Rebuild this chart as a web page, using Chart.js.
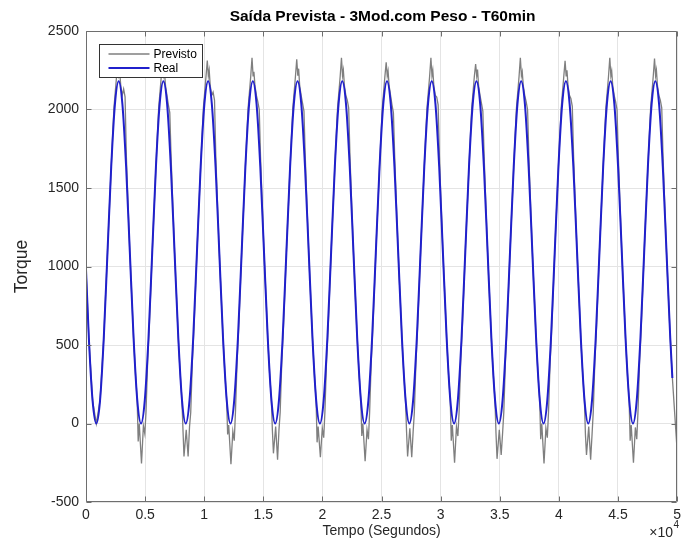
<!DOCTYPE html>
<html>
<head>
<meta charset="utf-8">
<script src="https://cdn.jsdelivr.net/npm/chart.js@4.4.0/dist/chart.umd.min.js"></script>
<style>
html, body { margin: 0; padding: 0; background: #ffffff; }
#wrap { position: relative; width: 686px; height: 540px; }
</style>
</head>
<body>
<div id="wrap"><canvas id="c"></canvas></div>
<script>
// Texts
const chartTitle = 'Saída Prevista - 3Mod.com Peso - T60min';
const xAxisTitle = 'Tempo (Segundos)';
const yAxisTitle = 'Torque';
const xExponent = '4';
const seriesNames = ['Previsto', 'Real'];

// Tick labels (x axis shown in units of 10^4 s)
const xTickLabels = ['0', '0.5', '1', '1.5', '2', '2.5', '3', '3.5', '4', '4.5', '5'];
const yTickLabels = ['-500', '0', '500', '1000', '1500', '2000', '2500'];

// Measured torque (Real): time in seconds
const tempoReal = [
  0, 241, 557,
  872, 1187, 1503, 1818, 2133, 2448, 2764, 3079, 3394, 3709, 4025, 4340,
  4655, 4970, 5286, 5601, 5916, 6231, 6547, 6862, 7177, 7492, 7808, 8123,
  8438, 8753, 9069, 9384, 9699, 10014, 10330, 10645, 10960, 11275, 11591, 11906,
  12221, 12536, 12852, 13167, 13482, 13797, 14113, 14428, 14743, 15058, 15374, 15689,
  16004, 16319, 16635, 16950, 17265, 17580, 17896, 18211, 18526, 18841, 19157, 19472,
  19787, 20102, 20418, 20733, 21048, 21363, 21679, 21994, 22309, 22624, 22940, 23255,
  23570, 23885, 24201, 24516, 24831, 25146, 25462, 25777, 26092, 26407, 26723, 27038,
  27353, 27668, 27984, 28299, 28614, 28929, 29245, 29560, 29875, 30190, 30506, 30821,
  31136, 31451, 31767, 32082, 32397, 32712, 33028, 33343, 33658, 33973, 34289, 34604,
  34919, 35234, 35550, 35865, 36180, 36495, 36811, 37126, 37441, 37756, 38072, 38387,
  38702, 39017, 39333, 39648, 39963, 40278, 40594, 40909, 41224, 41539, 41855, 42170,
  42485, 42800, 43116, 43431, 43746, 44061, 44377, 44692, 45007, 45322, 45638, 45953,
  46268, 46583, 46899, 47214, 47529, 47844, 48160, 48475, 48790, 49105, 49421, 49600
];
const torqueReal = [
  980, 545, 146,
  0, 146, 545, 1090, 1635, 2034, 2180, 2034, 1635, 1090, 545, 146,
  0, 146, 545, 1090, 1635, 2034, 2180, 2034, 1635, 1090, 545, 146,
  0, 146, 545, 1090, 1635, 2034, 2180, 2034, 1635, 1090, 545, 146,
  0, 146, 545, 1090, 1635, 2034, 2180, 2034, 1635, 1090, 545, 146,
  0, 146, 545, 1090, 1635, 2034, 2180, 2034, 1635, 1090, 545, 146,
  0, 146, 545, 1090, 1635, 2034, 2180, 2034, 1635, 1090, 545, 146,
  0, 146, 545, 1090, 1635, 2034, 2180, 2034, 1635, 1090, 545, 146,
  0, 146, 545, 1090, 1635, 2034, 2180, 2034, 1635, 1090, 545, 146,
  0, 146, 545, 1090, 1635, 2034, 2180, 2034, 1635, 1090, 545, 146,
  0, 146, 545, 1090, 1635, 2034, 2180, 2034, 1635, 1090, 545, 146,
  0, 146, 545, 1090, 1635, 2034, 2180, 2034, 1635, 1090, 545, 146,
  0, 146, 545, 1090, 1635, 2034, 2180, 2034, 1635, 1090, 545, 146,
  0, 146, 545, 1090, 1635, 2034, 2180, 2034, 1635, 1090, 545, 290
];

// Model output (Previsto): time in seconds
const tempoPrevisto = [
  0, 241, 557, 872, 1187, 1503, 1818,
  2133, 2364, 2464, 2584, 2694, 2784, 2854, 2944, 3064, 3184, 3304, 3414, 3564, 3709, 4025,
  4185, 4325, 4415, 4505, 4695, 4855, 4975, 5075, 5215, 5355, 5601,
  5916, 6147, 6247, 6367, 6477, 6567, 6637, 6727, 6847, 6967, 7087, 7197, 7347, 7492, 7808,
  7968, 8108, 8198, 8288, 8478, 8638, 8758, 8858, 8998, 9138, 9384,
  9699, 9930, 10030, 10150, 10260, 10350, 10420, 10510, 10630, 10750, 10870, 10980, 11130, 11275, 11591,
  11751, 11891, 11981, 12071, 12261, 12421, 12541, 12641, 12781, 12921, 13167,
  13482, 13713, 13813, 13933, 14043, 14133, 14203, 14293, 14413, 14533, 14653, 14763, 14913, 15058, 15374,
  15534, 15674, 15764, 15854, 16044, 16204, 16324, 16424, 16564, 16704, 16950,
  17265, 17496, 17596, 17716, 17826, 17916, 17986, 18076, 18196, 18316, 18436, 18546, 18696, 18841, 19157,
  19317, 19457, 19547, 19637, 19827, 19987, 20107, 20207, 20347, 20487, 20733,
  21048, 21279, 21379, 21499, 21609, 21699, 21769, 21859, 21979, 22099, 22219, 22329, 22479, 22624, 22940,
  23100, 23240, 23330, 23420, 23610, 23770, 23890, 23990, 24130, 24270, 24516,
  24831, 25062, 25162, 25282, 25392, 25482, 25552, 25642, 25762, 25882, 26002, 26112, 26262, 26407, 26723,
  26883, 27023, 27113, 27203, 27393, 27553, 27673, 27773, 27913, 28053, 28299,
  28614, 28845, 28945, 29065, 29175, 29265, 29335, 29425, 29545, 29665, 29785, 29895, 30045, 30190, 30506,
  30666, 30806, 30896, 30986, 31176, 31336, 31456, 31556, 31696, 31836, 32082,
  32397, 32628, 32728, 32848, 32958, 33048, 33118, 33208, 33328, 33448, 33568, 33678, 33828, 33973, 34289,
  34449, 34589, 34679, 34769, 34959, 35119, 35239, 35339, 35479, 35619, 35865,
  36180, 36411, 36511, 36631, 36741, 36831, 36901, 36991, 37111, 37231, 37351, 37461, 37611, 37756, 38072,
  38232, 38372, 38462, 38552, 38742, 38902, 39022, 39122, 39262, 39402, 39648,
  39963, 40194, 40294, 40414, 40524, 40614, 40684, 40774, 40894, 41014, 41134, 41244, 41394, 41539, 41855,
  42015, 42155, 42245, 42335, 42525, 42685, 42805, 42905, 43045, 43185, 43431,
  43746, 43977, 44077, 44197, 44307, 44397, 44467, 44557, 44677, 44797, 44917, 45027, 45177, 45322, 45638,
  45798, 45938, 46028, 46118, 46308, 46468, 46588, 46688, 46828, 46968, 47214,
  47529, 47760, 47860, 47980, 48090, 48180, 48250, 48340, 48460, 48580, 48700, 48810, 48960, 49105, 49421,
  49600, 50000
];
const torquePrevisto = [
  980, 545, 146, 0, 146, 545, 1090,
  1635, 2010, 2100, 2210, 2300, 2215, 2235, 2150, 2090, 2130, 2080, 1700, 1380, 1090, 545,
  316, 159, -115, 0, -255, -15, -65, 70, 400, 620, 1090,
  1635, 2010, 2100, 2210, 2290, 2215, 2240, 2150, 2090, 2030, 1980, 1700, 1380, 1090, 545,
  316, 159, -30, -210, -40, -210, -20, 70, 400, 620, 1090,
  1635, 2010, 2100, 2210, 2312, 2215, 2250, 2150, 2090, 2110, 2060, 1700, 1380, 1090, 545,
  316, 159, -70, -10, -260, -50, -110, 70, 400, 620, 1090,
  1635, 2010, 2100, 2210, 2330, 2215, 2240, 2150, 2090, 2050, 2000, 1700, 1380, 1090, 545,
  316, 159, -40, -190, -20, -230, -40, 70, 400, 620, 1090,
  1635, 2010, 2100, 2210, 2320, 2215, 2260, 2150, 2090, 2040, 1990, 1700, 1380, 1090, 545,
  316, 159, -120, -20, -215, -30, -90, 70, 400, 620, 1090,
  1635, 2010, 2100, 2210, 2330, 2215, 2250, 2150, 2090, 2060, 2010, 1700, 1380, 1090, 545,
  316, 159, -80, 0, -240, -40, -100, 70, 400, 620, 1090,
  1635, 2010, 2100, 2210, 2300, 2215, 2245, 2150, 2090, 2030, 1980, 1700, 1380, 1090, 545,
  316, 159, -50, -210, -30, -215, -50, 70, 400, 620, 1090,
  1635, 2010, 2100, 2210, 2330, 2215, 2250, 2150, 2090, 2080, 2030, 1700, 1380, 1090, 545,
  316, 159, -110, -10, -250, -20, -80, 70, 400, 620, 1090,
  1635, 2010, 2100, 2210, 2290, 2215, 2255, 2150, 2090, 2040, 1990, 1700, 1380, 1090, 545,
  316, 159, -60, -225, -40, -200, -60, 70, 400, 620, 1090,
  1635, 2010, 2100, 2210, 2330, 2215, 2240, 2150, 2090, 2050, 2000, 1700, 1380, 1090, 545,
  316, 159, -100, 0, -255, -30, -90, 70, 400, 620, 1090,
  1635, 2010, 2100, 2210, 2310, 2215, 2250, 2150, 2090, 2070, 2020, 1700, 1380, 1090, 545,
  316, 159, -70, -200, -20, -230, -70, 70, 400, 620, 1090,
  1635, 2010, 2100, 2210, 2330, 2215, 2245, 2150, 2090, 2050, 2000, 1700, 1380, 1090, 545,
  316, 159, -110, -10, -250, -25, -100, 70, 400, 620, 1090,
  1635, 2010, 2100, 2210, 2325, 2215, 2250, 2150, 2090, 2060, 2010, 1700, 1380, 1090, 545,
  290, -170
];

const FONT = '"Liberation Sans", Arial, Helvetica, sans-serif';
const INK = '#262626';

const toPoints = (xs, ys) => xs.map((t, i) => ({ x: t, y: ys[i] }));

// Box around the axes with inward tick marks on all four sides
const axesFrame = {
  id: 'axesFrame',
  afterDatasetsDraw(chart) {
    const { ctx, chartArea: a, scales: { x, y } } = chart;
    const L = Math.round(a.left) + 0.5, R = Math.round(a.right) - 0.5;
    const T = Math.round(a.top) + 0.5, B = Math.round(a.bottom) - 0.5;
    const len = 5;
    ctx.save();
    ctx.strokeStyle = '#6e6e6e';
    ctx.lineWidth = 1;
    ctx.beginPath();
    ctx.rect(L, T, R - L, B - T);
    x.ticks.forEach(t => {
      const px = Math.round(x.getPixelForValue(t.value)) + 0.5;
      ctx.moveTo(px, B); ctx.lineTo(px, B - len);
      ctx.moveTo(px, T); ctx.lineTo(px, T + len);
    });
    y.ticks.forEach(t => {
      const py = Math.round(y.getPixelForValue(t.value)) + 0.5;
      ctx.moveTo(L, py); ctx.lineTo(L + len, py);
      ctx.moveTo(R, py); ctx.lineTo(R - len, py);
    });
    ctx.stroke();
    ctx.restore();
  }
};

// Title, boxed legend and the x10^4 multiplier
const decorations = {
  id: 'decorations',
  afterDraw(chart) {
    const { ctx, chartArea: a } = chart;
    ctx.save();

    ctx.fillStyle = '#000';
    ctx.font = 'bold 15.5px ' + FONT;
    ctx.textAlign = 'center';
    ctx.textBaseline = 'middle';
    ctx.fillText(chartTitle, (a.left + a.right) / 2 + 1, 17);

    const bx = Math.round(a.left) + 13.5, by = Math.round(a.top) + 13.5;
    const bw = 103, bh = 33;
    ctx.fillStyle = '#ffffff';
    ctx.fillRect(bx, by, bw, bh);
    ctx.strokeStyle = '#333333';
    ctx.lineWidth = 1;
    ctx.strokeRect(bx, by, bw, bh);
    chart.data.datasets.forEach((ds, i) => {
      const ly = by + 9.5 + i * 14;
      ctx.strokeStyle = ds.borderColor;
      ctx.lineWidth = ds.borderWidth;
      ctx.beginPath();
      ctx.moveTo(bx + 9, ly);
      ctx.lineTo(bx + 50, ly);
      ctx.stroke();
      ctx.fillStyle = '#000';
      ctx.font = '12px ' + FONT;
      ctx.textAlign = 'left';
      ctx.textBaseline = 'middle';
      ctx.fillText(ds.label, bx + 54, ly + 0.5);
    });

    ctx.fillStyle = INK;
    ctx.font = '14px ' + FONT;
    ctx.textAlign = 'right';
    ctx.textBaseline = 'middle';
    ctx.fillText('×10', a.right - 4, 533);
    ctx.font = '10px ' + FONT;
    ctx.textAlign = 'left';
    ctx.fillText(xExponent, a.right - 3.5, 525);

    ctx.restore();
  }
};

new Chart(document.getElementById('c'), {
  type: 'line',
  data: {
    datasets: [
      {
        label: seriesNames[0],
        data: toPoints(tempoPrevisto, torquePrevisto),
        borderColor: '#7f7f7f',
        borderWidth: 1.3,
        pointRadius: 0,
        tension: 0,
        order: 1
      },
      {
        label: seriesNames[1],
        data: toPoints(tempoReal, torqueReal),
        borderColor: '#2020cc',
        borderWidth: 2,
        pointRadius: 0,
        cubicInterpolationMode: 'monotone',
        order: 0
      }
    ]
  },
  options: {
    responsive: true,
    maintainAspectRatio: false,
    animation: false,
    devicePixelRatio: 1,
    layout: { padding: { left: 0, right: 4, top: 31, bottom: 0 } },
    plugins: {
      legend: { display: false },
      title: { display: false },
      tooltip: { enabled: false }
    },
    scales: {
      x: {
        type: 'linear',
        min: 0,
        max: 50000,
        afterFit(s) { s.height = 38; },
        ticks: {
          stepSize: 5000,
          autoSkip: false,
          maxRotation: 0,
          padding: 5,
          color: INK,
          font: { family: FONT, size: 14 },
          callback: (v, i) => xTickLabels[i]
        },
        grid: { color: '#e4e4e4', lineWidth: 1, drawTicks: false },
        border: { display: false },
        title: {
          display: true,
          text: xAxisTitle,
          color: INK,
          font: { family: FONT, size: 14 },
          padding: { top: 0, bottom: 0 }
        }
      },
      y: {
        type: 'linear',
        min: -500,
        max: 2500,
        afterFit(s) { s.width = 86; },
        ticks: {
          stepSize: 500,
          padding: 7,
          color: INK,
          font: { family: FONT, size: 14 },
          callback: (v, i) => yTickLabels[i]
        },
        grid: { color: '#e4e4e4', lineWidth: 1, drawTicks: false },
        border: { display: false },
        title: {
          display: true,
          text: yAxisTitle,
          color: INK,
          font: { family: FONT, size: 17.5 },
          padding: { top: 12, bottom: 0 }
        }
      }
    }
  },
  plugins: [axesFrame, decorations]
});
</script>
</body>
</html>
